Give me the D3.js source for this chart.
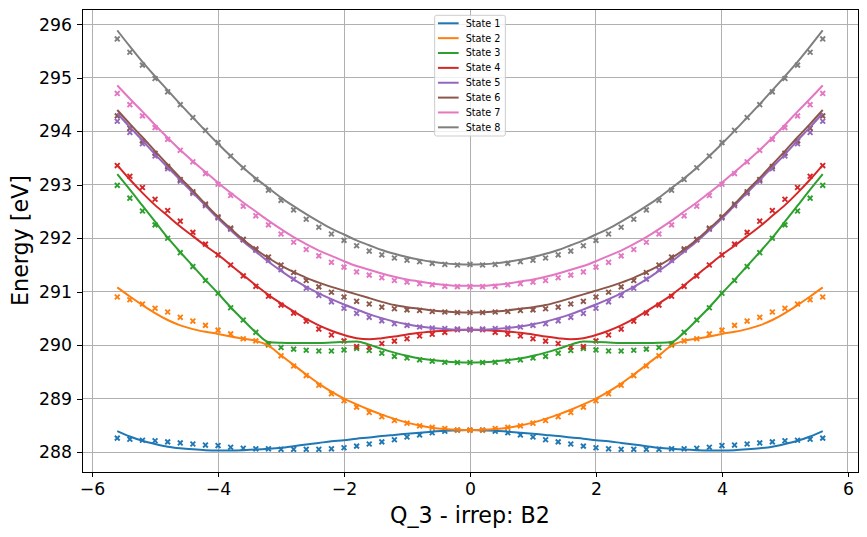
<!DOCTYPE html>
<html>
<head>
<meta charset="utf-8">
<script src="https://cdn.jsdelivr.net/npm/d3@7"></script>
<style>
  body { margin: 0; background: #fff; }
  svg { display: block; font-family: "DejaVu Sans", sans-serif; }
</style>
</head>
<body>
<svg id="chart" width="867" height="537"></svg>
<script>

// displacement along Q_3
const qValues = [-5.6, -5.4, -5.2, -5.0, -4.8, -4.6, -4.4, -4.2, -4.0, -3.8, -3.6, -3.4, -3.2, -3.0,
                 -2.8, -2.6, -2.4, -2.2, -2.0, -1.8, -1.6, -1.4, -1.2, -1.0, -0.8, -0.6, -0.4, -0.2,
                 0.0, 0.2, 0.4, 0.6, 0.8, 1.0, 1.2, 1.4, 1.6, 1.8, 2.0, 2.2, 2.4, 2.6, 2.8, 3.0,
                 3.2, 3.4, 3.6, 3.8, 4.0, 4.2, 4.4, 4.6, 4.8, 5.0, 5.2, 5.4, 5.6];

const stateNames = ["State 1", "State 2", "State 3", "State 4", "State 5", "State 6", "State 7", "State 8"];
const stateColors = ["#1f77b4", "#ff7f0e", "#2ca02c", "#d62728", "#9467bd", "#8c564b", "#e377c2", "#7f7f7f"];

const xTicks = [-6, -4, -2, 0, 2, 4, 6];
const yTicks = [288, 289, 290, 291, 292, 293, 294, 295, 296];

// computed energies (x markers)
const state1Points = [288.26, 288.24, 288.22, 288.21, 288.19, 288.17, 288.15, 288.13, 288.12, 288.09, 288.07, 288.06, 288.06, 288.05, 288.05, 288.05, 288.05, 288.06, 288.08, 288.11, 288.15, 288.19, 288.23, 288.28, 288.32, 288.36, 288.39, 288.41,
  288.41, 288.41, 288.39, 288.36, 288.32, 288.28, 288.23, 288.19, 288.15, 288.11, 288.08, 288.06, 288.05, 288.05, 288.05, 288.05, 288.06, 288.06, 288.07, 288.09, 288.12, 288.13, 288.15, 288.17, 288.19, 288.21, 288.22, 288.24, 288.26];
const state2Points = [290.90, 290.85, 290.77, 290.69, 290.62, 290.52, 290.45, 290.37, 290.28, 290.21, 290.12, 290.08, 290.00, 289.80, 289.61, 289.43, 289.25, 289.09, 288.96, 288.84, 288.74, 288.66, 288.59, 288.54, 288.49, 288.46, 288.44, 288.41,
  288.41, 288.41, 288.44, 288.46, 288.49, 288.54, 288.59, 288.66, 288.74, 288.84, 288.96, 289.09, 289.25, 289.43, 289.61, 289.80, 290.00, 290.08, 290.12, 290.21, 290.28, 290.37, 290.45, 290.52, 290.62, 290.69, 290.77, 290.85, 290.90];
const state3Points = [292.99, 292.75, 292.51, 292.25, 292.00, 291.73, 291.47, 291.21, 290.97, 290.70, 290.47, 290.24, 290.02, 289.955, 289.925, 289.905, 289.89, 289.89, 289.91, 289.94, 289.90, 289.85, 289.79, 289.76, 289.725, 289.70, 289.68, 289.675,
  289.675, 289.675, 289.68, 289.70, 289.725, 289.76, 289.79, 289.85, 289.90, 289.94, 289.91, 289.89, 289.89, 289.905, 289.925, 289.955, 290.02, 290.24, 290.47, 290.70, 290.97, 291.21, 291.47, 291.73, 292.00, 292.25, 292.51, 292.75, 292.99];
const state4Points = [293.36, 293.16, 292.95, 292.73, 292.52, 292.32, 292.11, 291.89, 291.69, 291.50, 291.295, 291.10, 290.915, 290.75, 290.60, 290.45, 290.30, 290.19, 290.08, 289.975, 289.965, 290.03, 290.075, 290.12, 290.17, 290.205, 290.24, 290.29,
  290.29, 290.29, 290.24, 290.205, 290.17, 290.12, 290.075, 290.03, 289.965, 289.975, 290.08, 290.19, 290.30, 290.45, 290.60, 290.75, 290.915, 291.10, 291.295, 291.50, 291.69, 291.89, 292.11, 292.32, 292.52, 292.73, 292.95, 293.16, 293.36];
const state5Points = [294.19, 293.98, 293.77, 293.54, 293.30, 293.07, 292.84, 292.61, 292.38, 292.17, 291.97, 291.775, 291.585, 291.41, 291.235, 291.065, 290.93, 290.81, 290.69, 290.595, 290.52, 290.455, 290.40, 290.37, 290.34, 290.32, 290.31, 290.30,
  290.29, 290.30, 290.31, 290.32, 290.34, 290.37, 290.40, 290.455, 290.52, 290.595, 290.69, 290.81, 290.93, 291.065, 291.235, 291.41, 291.585, 291.775, 291.97, 292.17, 292.38, 292.61, 292.84, 293.07, 293.30, 293.54, 293.77, 293.98, 294.19];
const state6Points = [294.29, 294.06, 293.82, 293.59, 293.34, 293.10, 292.87, 292.64, 292.40, 292.19, 291.98, 291.80, 291.65, 291.50, 291.36, 291.21, 291.09, 290.99, 290.90, 290.82, 290.77, 290.71, 290.68, 290.66, 290.65, 290.63, 290.62, 290.61,
  290.61, 290.61, 290.62, 290.63, 290.65, 290.66, 290.68, 290.71, 290.77, 290.82, 290.90, 290.99, 291.09, 291.21, 291.36, 291.50, 291.65, 291.80, 291.98, 292.19, 292.40, 292.64, 292.87, 293.10, 293.34, 293.59, 293.82, 294.06, 294.29];
const state7Points = [294.71, 294.50, 294.29, 294.07, 293.85, 293.645, 293.43, 293.21, 293.01, 292.80, 292.60, 292.42, 292.25, 292.08, 291.925, 291.79, 291.67, 291.55, 291.46, 291.37, 291.31, 291.26, 291.21, 291.18, 291.15, 291.13, 291.10, 291.095,
  291.095, 291.095, 291.10, 291.13, 291.15, 291.18, 291.21, 291.26, 291.31, 291.37, 291.46, 291.55, 291.67, 291.79, 291.925, 292.08, 292.25, 292.42, 292.60, 292.80, 293.01, 293.21, 293.43, 293.645, 293.85, 294.07, 294.29, 294.50, 294.71];
const state8Points = [295.73, 295.48, 295.24, 294.99, 294.74, 294.50, 294.26, 294.02, 293.79, 293.54, 293.32, 293.10, 292.90, 292.71, 292.53, 292.355, 292.205, 292.08, 291.96, 291.86, 291.76, 291.69, 291.63, 291.59, 291.56, 291.53, 291.51, 291.50,
  291.51, 291.50, 291.51, 291.53, 291.56, 291.59, 291.63, 291.69, 291.76, 291.86, 291.96, 292.08, 292.205, 292.355, 292.53, 292.71, 292.90, 293.10, 293.32, 293.54, 293.79, 294.02, 294.26, 294.50, 294.74, 294.99, 295.24, 295.48, 295.73];

// model fit (lines)
const state1Fit = [288.39, 288.29, 288.21, 288.15, 288.10, 288.07, 288.05, 288.035, 288.03, 288.03, 288.035, 288.045, 288.06, 288.08, 288.11, 288.14, 288.17, 288.20, 288.22, 288.25, 288.27, 288.30, 288.32, 288.34, 288.36, 288.38, 288.40, 288.405,
  288.41, 288.405, 288.40, 288.38, 288.36, 288.34, 288.32, 288.30, 288.27, 288.25, 288.22, 288.20, 288.17, 288.14, 288.11, 288.08, 288.06, 288.045, 288.035, 288.03, 288.03, 288.035, 288.05, 288.07, 288.10, 288.15, 288.21, 288.29, 288.39];
const state2Fit = [291.08, 290.91, 290.75, 290.60, 290.47, 290.37, 290.30, 290.25, 290.21, 290.16, 290.12, 290.08, 289.99, 289.81, 289.63, 289.45, 289.28, 289.13, 289.00, 288.89, 288.79, 288.70, 288.62, 288.55, 288.495, 288.455, 288.43, 288.415,
  288.41, 288.415, 288.43, 288.455, 288.495, 288.55, 288.62, 288.70, 288.79, 288.89, 289.00, 289.13, 289.28, 289.45, 289.63, 289.81, 289.99, 290.08, 290.12, 290.16, 290.21, 290.25, 290.30, 290.37, 290.47, 290.60, 290.75, 290.91, 291.08];
const state3Fit = [293.20, 292.91, 292.61, 292.31, 292.01, 291.74, 291.48, 291.22, 290.97, 290.71, 290.47, 290.24, 290.06, 290.045, 290.04, 290.04, 290.04, 290.05, 290.06, 290.07, 290.01, 289.93, 289.86, 289.80, 289.75, 289.72, 289.695, 289.68,
  289.675, 289.68, 289.695, 289.72, 289.75, 289.80, 289.86, 289.93, 290.01, 290.07, 290.06, 290.05, 290.04, 290.04, 290.04, 290.045, 290.06, 290.24, 290.47, 290.71, 290.97, 291.22, 291.48, 291.74, 292.01, 292.31, 292.61, 292.91, 293.20];
const state4Fit = [293.37, 293.10, 292.85, 292.62, 292.42, 292.22, 292.04, 291.86, 291.69, 291.50, 291.31, 291.12, 290.94, 290.78, 290.63, 290.49, 290.37, 290.27, 290.19, 290.13, 290.11, 290.13, 290.16, 290.20, 290.23, 290.255, 290.27, 290.285,
  290.29, 290.285, 290.27, 290.255, 290.23, 290.20, 290.16, 290.13, 290.11, 290.13, 290.19, 290.27, 290.37, 290.49, 290.63, 290.78, 290.94, 291.12, 291.31, 291.50, 291.69, 291.86, 292.04, 292.22, 292.42, 292.62, 292.85, 293.10, 293.37];
const state5Fit = [294.34, 294.08, 293.83, 293.57, 293.33, 293.09, 292.85, 292.61, 292.37, 292.15, 291.94, 291.75, 291.56, 291.39, 291.23, 291.09, 290.97, 290.86, 290.76, 290.67, 290.58, 290.505, 290.44, 290.39, 290.35, 290.32, 290.30, 290.29,
  290.29, 290.29, 290.30, 290.32, 290.35, 290.39, 290.44, 290.505, 290.58, 290.67, 290.76, 290.86, 290.97, 291.09, 291.23, 291.39, 291.56, 291.75, 291.94, 292.15, 292.37, 292.61, 292.85, 293.09, 293.33, 293.57, 293.83, 294.08, 294.34];
const state6Fit = [294.40, 294.14, 293.89, 293.63, 293.38, 293.13, 292.89, 292.64, 292.40, 292.18, 291.97, 291.79, 291.63, 291.49, 291.37, 291.26, 291.17, 291.09, 291.02, 290.95, 290.88, 290.81, 290.75, 290.71, 290.68, 290.65, 290.63, 290.615,
  290.61, 290.615, 290.63, 290.65, 290.68, 290.71, 290.75, 290.81, 290.88, 290.95, 291.02, 291.09, 291.17, 291.26, 291.37, 291.49, 291.63, 291.79, 291.97, 292.18, 292.40, 292.64, 292.89, 293.13, 293.38, 293.63, 293.89, 294.14, 294.40];
const state7Fit = [294.86, 294.61, 294.37, 294.12, 293.88, 293.65, 293.44, 293.24, 293.04, 292.85, 292.67, 292.50, 292.33, 292.17, 292.02, 291.89, 291.77, 291.67, 291.57, 291.48, 291.41, 291.34, 291.28, 291.23, 291.19, 291.15, 291.13, 291.11,
  291.11, 291.11, 291.13, 291.15, 291.19, 291.23, 291.28, 291.34, 291.41, 291.48, 291.57, 291.67, 291.77, 291.89, 292.02, 292.17, 292.33, 292.50, 292.67, 292.85, 293.04, 293.24, 293.44, 293.65, 293.88, 294.12, 294.37, 294.61, 294.86];
const state8Fit = [295.89, 295.59, 295.30, 295.03, 294.77, 294.51, 294.26, 294.01, 293.77, 293.54, 293.32, 293.12, 292.94, 292.76, 292.60, 292.45, 292.31, 292.18, 292.07, 291.96, 291.87, 291.78, 291.71, 291.65, 291.60, 291.56, 291.53, 291.515,
  291.51, 291.515, 291.53, 291.56, 291.60, 291.65, 291.71, 291.78, 291.87, 291.96, 292.07, 292.18, 292.31, 292.45, 292.60, 292.76, 292.94, 293.12, 293.32, 293.54, 293.77, 294.01, 294.26, 294.51, 294.77, 295.03, 295.30, 295.59, 295.89];

const pointSeries = [state1Points, state2Points, state3Points, state4Points, state5Points, state6Points, state7Points, state8Points];
const fitSeries = [state1Fit, state2Fit, state3Fit, state4Fit, state5Fit, state6Fit, state7Fit, state8Fit];

const states = stateNames.map((name, i) => ({
  name: name,
  color: stateColors[i],
  points: pointSeries[i],
  fit: fitSeries[i]
}));


function buildMargin() {
  return {top: 9, right: 9, bottom: 65, left: 82};
}

function buildSVG(margin) {
  const svg = d3.select("#chart");
  const width = +svg.attr("width") - margin.left - margin.right;
  const height = +svg.attr("height") - margin.top - margin.bottom;
  svg.append("rect").attr("width", +svg.attr("width")).attr("height", +svg.attr("height")).attr("fill", "#fff");
  const g = svg.append("g").attr("transform", "translate(" + margin.left + "," + margin.top + ")");
  return {svg, width, height, g};
}

function buildGrid(g, x, y, width, height) {
  const grid = g.append("g").attr("class", "grid")
                .attr("stroke", "#b0b0b0")
                .attr("stroke-width", 1)
                .attr("shape-rendering", "crispEdges");

  grid.selectAll(".gx").data(xTicks).enter().append("line")
      .attr("class", "gx")
      .attr("x1", d => x(d)).attr("x2", d => x(d))
      .attr("y1", 0).attr("y2", height);

  grid.selectAll(".gy").data(yTicks).enter().append("line")
      .attr("class", "gy")
      .attr("x1", 0).attr("x2", width)
      .attr("y1", d => y(d)).attr("y2", d => y(d));
}

function buildAxes(g, x, y, height) {
  const xAxis = g.append("g")
                 .attr("transform", "translate(0," + height + ")")
                 .call(d3.axisBottom(x).tickValues(xTicks).tickSize(5).tickSizeOuter(0).tickPadding(6));
  const yAxis = g.append("g")
                 .call(d3.axisLeft(y).tickValues(yTicks).tickSize(5).tickSizeOuter(0).tickPadding(5));

  [xAxis, yAxis].forEach(ax => {
    ax.select(".domain").remove();
    ax.attr("font-size", 17.3).attr("font-family", "DejaVu Sans, sans-serif");
    ax.selectAll("line").attr("stroke", "#000").attr("shape-rendering", "crispEdges");
    ax.selectAll("text").attr("fill", "#000");
  });
}

function buildLegend(g, width) {
  const legendW = 70.7, legendH = 120.7, rowH = 14.86;
  const legend = g.append("g")
                  .attr("transform", "translate(" + (width / 2 - legendW / 2) + ",6.3)");

  legend.append("rect")
        .attr("width", legendW).attr("height", legendH)
        .attr("rx", 2)
        .attr("fill", "#fff").attr("fill-opacity", 0.8)
        .attr("stroke", "#cccccc").attr("stroke-width", 1);

  const row = legend.selectAll(".legend-row")
                    .data(states)
                    .enter().append("g")
                    .attr("class", "legend-row")
                    .attr("transform", (d, i) => "translate(0," + (8 + i * rowH) + ")");

  row.append("line")
     .attr("x1", 3.3).attr("x2", 24)
     .attr("stroke", d => d.color).attr("stroke-width", 2);

  row.append("text")
     .attr("x", 31)
     .attr("dy", "0.35em")
     .attr("font-size", 9.7)
     .attr("fill", "#000")
     .text(d => d.name);
}


const margin = buildMargin();
const {svg, width, height, g} = buildSVG(margin);

const x = d3.scaleLinear().domain([-6.16, 6.16]).range([0, width]);
const y = d3.scaleLinear().domain([287.626, 296.29]).range([height, 0]);

buildGrid(g, x, y, width, height);

// markers first (scatter sits under the lines)
const m = 2.4;
states.forEach(s => {
  g.append("g")
   .attr("stroke", s.color)
   .attr("stroke-width", 1.9)
   .attr("fill", "none")
   .selectAll("path")
   .data(qValues.map((q, i) => [q, s.points[i]]))
   .enter().append("path")
   .attr("transform", d => "translate(" + x(d[0]) + "," + y(d[1]) + ")")
   .attr("d", "M" + (-m) + "," + (-m) + "L" + m + "," + m + "M" + (-m) + "," + m + "L" + m + "," + (-m));
});

const line = d3.line()
               .x((d, i) => x(qValues[i]))
               .y(d => y(d))
               .curve(d3.curveMonotoneX);

states.forEach(s => {
  g.append("path")
   .datum(s.fit)
   .attr("fill", "none")
   .attr("stroke", s.color)
   .attr("stroke-width", 2)
   .attr("stroke-linejoin", "round")
   .attr("d", line);
});

// frame
g.append("rect")
 .attr("width", width).attr("height", height)
 .attr("fill", "none").attr("stroke", "#000").attr("stroke-width", 1)
 .attr("shape-rendering", "crispEdges");

buildAxes(g, x, y, height);
buildLegend(g, width);

svg.append("text")
   .attr("x", margin.left + width / 2)
   .attr("y", 523)
   .attr("text-anchor", "middle")
   .attr("font-size", 22.2)
   .attr("fill", "#000")
   .text("Q_3 - irrep: B2");

svg.append("text")
   .attr("transform", "translate(28," + (margin.top + height / 2) + ") rotate(-90)")
   .attr("text-anchor", "middle")
   .attr("font-size", 22.2)
   .attr("fill", "#000")
   .text("Energy [eV]");

</script>
</body>
</html>
